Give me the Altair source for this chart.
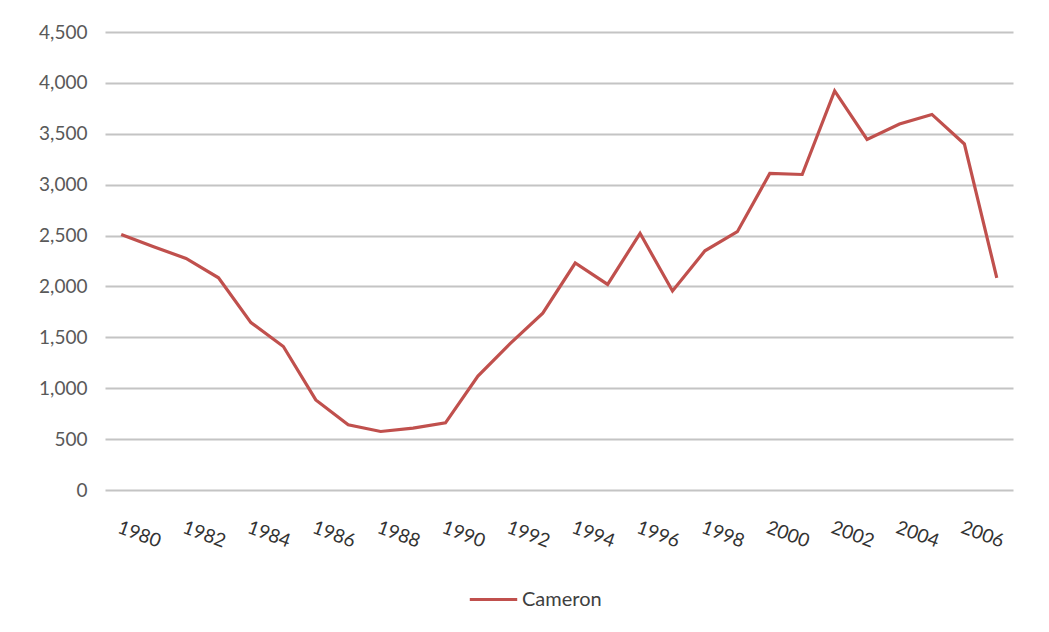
import altair as alt
import pandas as pd

years = list(range(1980, 2008))
values = [2510, 2390, 2275, 2085, 1645, 1410, 885, 640, 575, 608, 660, 1120,
          1440, 1738, 2230, 2020, 2522, 1955, 2350, 2538, 3110, 3100, 3922,
          3445, 3596, 3690, 3400, 2085]
series = ["Cameron"] * len(years)
tick_years = list(range(1980, 2007, 2))
y_ticks = [0, 500, 1000, 1500, 2000, 2500, 3000, 3500, 4000, 4500]

df = pd.DataFrame({"year": years, "value": values, "series": series})

FONT = "Lato"

chart = (
    alt.Chart(df)
    .mark_line(strokeWidth=3.2)
    .encode(
        x=alt.X(
            "year:O",
            scale=alt.Scale(type="point", padding=0.5),
            axis=alt.Axis(
                title=None,
                values=tick_years,
                labelAngle=20,
                labelAlign="left",
                labelBaseline="top",
                labelPadding=28,
                ticks=False,
                domain=False,
                grid=False,
                labelFont=FONT,
                labelFontSize=19,
                labelColor="#333333",
            ),
        ),
        y=alt.Y(
            "value:Q",
            scale=alt.Scale(domain=[0, 4500], nice=False),
            axis=alt.Axis(
                title=None,
                values=y_ticks,
                format=",.0f",
                ticks=False,
                domain=False,
                grid=True,
                gridColor="#c4c4c4",
                gridWidth=2,
                labelPadding=18,
                labelFont=FONT,
                labelFontSize=19,
                labelColor="#595959",
            ),
        ),
        color=alt.Color(
            "series:N",
            scale=alt.Scale(domain=["Cameron"], range=["#c0504d"]),
            legend=alt.Legend(
                title=None,
                orient="none",
                legendX=363,
                legendY=542,
                symbolType="stroke",
                symbolSize=2250,
                symbolStrokeWidth=3.2,
                labelFont=FONT,
                labelFontSize=20,
                labelColor="#404040",
                labelOffset=3,
            ),
        ),
    )
    .properties(
        width=908,
        height=458,
        background="white",
        autosize=alt.AutoSizeParams(type="none"),
        padding={"left": 97, "top": 24, "right": 28, "bottom": 130},
    )
    .configure_view(strokeWidth=0, stroke="transparent")
)

chart.save("out.html", embed_options={"renderer": "svg", "actions": False})
